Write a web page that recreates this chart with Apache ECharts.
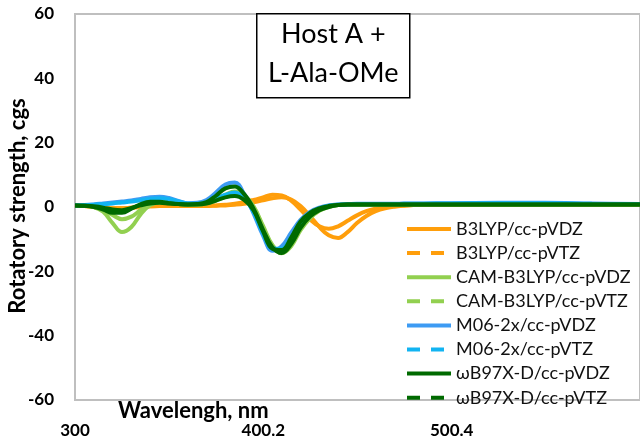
<!DOCTYPE html>
<html>
<head>
<meta charset="utf-8">
<script src="https://cdn.jsdelivr.net/npm/echarts@6/dist/echarts.min.js"></script>
<style>
  html, body { margin: 0; padding: 0; background: #fff; }
  #chart { width: 640px; height: 441px; }
</style>
</head>
<body>
<div id="chart"></div>
<script>
// Wavelength grid (nm) shared by all computed spectra
const wavelength = [300, 305, 310, 315, 320, 325, 330, 335, 340, 345, 350, 355, 360, 365, 370, 375, 380, 385, 390, 395,
  400, 405, 410, 415, 420, 425, 430, 435, 440, 445, 450, 455, 460, 465, 470, 475, 480, 500, 525, 550, 575, 605];

// Rotatory strength (cgs) for each functional / basis set
const b3lypVDZ = [0.5, 0.3, 0, -0.3, -0.4, -0.4, -0.2, 0, 0.2, 0.3, 0.3, 0.3, 0.3, 0.3, 0.4, 0.5, 0.7, 1.0, 1.5, 2.2,
  3.0, 3.8, 3.6, 2.0, -0.8, -3.8, -6.0, -6.8, -6.0, -4.3, -2.6, -1.3, -0.5, 0, 0.3, 0.5, 0.6, 0.7, 0.8, 0.8, 0.8, 0.8];
const b3lypVTZ = [0.5, 0.3, 0, -0.3, -0.4, -0.4, -0.2, 0, 0.2, 0.3, 0.3, 0.3, 0.3, 0.3, 0.3, 0.4, 0.5, 0.7, 1.0, 1.5,
  2.1, 2.7, 3.0, 2.3, 0.3, -2.8, -6.2, -8.8, -9.6, -7.8, -5.0, -2.8, -1.3, -0.4, 0.1, 0.4, 0.6, 0.7, 0.8, 0.8, 0.8, 0.8];
const camVDZ = [0.5, 0.4, 0, -1.5, -5.0, -7.8, -6.2, -2.2, 0.6, 1.5, 1.4, 1.0, 0.8, 0.8, 1.2, 2.3, 3.8, 4.8, 3.6, 0.2,
  -5.8, -11.8, -14.4, -12.2, -7.2, -3.5, -1.2, 0, 0.6, 0.8, 0.8, 0.8, 0.8, 0.8, 0.8, 0.8, 0.8, 0.8, 0.8, 0.8, 0.8, 0.8];
const camVTZ = [0.5, 0.4, 0.1, -0.8, -2.5, -3.8, -3.0, -0.9, 0.8, 1.4, 1.3, 1.0, 0.8, 0.8, 1.1, 2.0, 3.2, 3.8, 3.0, 0,
  -6.2, -12.0, -13.8, -11.0, -6.0, -2.8, -0.9, 0.2, 0.7, 0.8, 0.8, 0.8, 0.8, 0.8, 0.8, 0.8, 0.8, 0.8, 0.8, 0.8, 0.8, 0.8];
const m062xVDZ = [0.5, 0.6, 0.8, 1.1, 1.4, 1.7, 2.0, 2.5, 3.0, 3.2, 2.8, 1.9, 1.2, 1.3, 2.2, 4.5, 7.0, 7.6, 4.0, -2.0,
  -8.8, -13.6, -12.2, -8.0, -4.0, -1.5, -0.2, 0.5, 0.8, 0.9, 1.0, 1.0, 1.0, 1.0, 1.0, 1.1, 1.1, 1.2, 1.3, 1.3, 1.1, 0.9];
const m062xVTZ = [0.5, 0.6, 0.7, 0.9, 1.1, 1.4, 1.7, 2.1, 2.5, 2.7, 2.4, 1.7, 1.1, 1.0, 1.5, 2.6, 3.8, 4.5, 2.8, -1.5,
  -8.0, -12.8, -13.0, -9.5, -5.0, -2.0, -0.5, 0.4, 0.7, 0.8, 0.9, 0.9, 0.9, 0.9, 0.9, 1.0, 1.0, 1.1, 1.2, 1.2, 1.0, 0.9];
const wb97xdVDZ = [0.5, 0.4, 0, -0.8, -1.8, -1.8, -0.5, 0.9, 1.6, 1.6, 1.2, 0.9, 0.8, 0.9, 1.5, 3.5, 5.8, 6.4, 4.0, -0.5,
  -7.0, -12.5, -14.3, -11.5, -6.5, -3.0, -1.0, 0, 0.6, 0.8, 0.8, 0.8, 0.8, 0.8, 0.8, 0.8, 0.8, 0.8, 0.8, 0.8, 0.8, 0.8];
const wb97xdVTZ = [0.5, 0.4, 0.2, -0.2, -0.8, -1.0, -0.3, 0.5, 1.1, 1.3, 1.1, 0.9, 0.8, 0.8, 1.1, 2.0, 3.0, 3.4, 2.2, -1.0,
  -7.5, -13.0, -13.4, -9.5, -4.5, -1.8, -0.4, 0.3, 0.6, 0.8, 0.8, 0.8, 0.8, 0.8, 0.8, 0.8, 0.8, 0.8, 0.8, 0.8, 0.8, 0.8];

const seriesNames = ['B3LYP/cc-pVDZ', 'B3LYP/cc-pVTZ', 'CAM-B3LYP/cc-pVDZ', 'CAM-B3LYP/cc-pVTZ',
  'M06-2x/cc-pVDZ', 'M06-2x/cc-pVTZ', 'ωB97X-D/cc-pVDZ', 'ωB97X-D/cc-pVTZ'];
const seriesValues = [b3lypVDZ, b3lypVTZ, camVDZ, camVTZ, m062xVDZ, m062xVTZ, wb97xdVDZ, wb97xdVTZ];
const seriesColors = ['#FF9E0B', '#FF9E0B', '#92D050', '#92D050', '#3D9BF3', '#12B4F2', '#006A00', '#006A00'];
const dashedTZ = [false, true, false, true, false, true, false, true];

// x-axis ticks: 300, 400.2, 500.4 (step 100.2)
const xMin = 300, xStep = 100.2, xMax = 600.6;
const yMin = -60, yMax = 60, yStep = 20;

const FONT = 'Lato, "Open Sans", sans-serif';

const chart = echarts.init(document.getElementById('chart'), null, { renderer: 'canvas' });

const series = seriesNames.map((name, i) => ({
  name,
  type: 'line',
  smooth: 0.4,
  symbol: 'none',
  clip: true,
  z: 2 + Math.floor(i / 2),
  color: seriesColors[i],
  lineStyle: { width: 4, color: seriesColors[i] },
  data: wavelength.map((w, k) => [w, seriesValues[i][k]])
}));

chart.setOption({
  animation: false,
  backgroundColor: '#fff',
  grid: {
    left: 75, top: 14, right: -3, bottom: 41,
    show: true, borderColor: '#BFBFBF', borderWidth: 2, backgroundColor: 'transparent'
  },
  xAxis: {
    type: 'value', min: xMin, max: xMax, interval: xStep,
    axisLine: { show: false }, axisTick: { show: false }, splitLine: { show: false },
    axisLabel: {
      margin: 22, color: '#000', fontFamily: FONT, fontWeight: 'bold', fontSize: 17,
      showMaxLabel: false,
      formatter: v => String(+v.toFixed(1))
    }
  },
  yAxis: {
    type: 'value', min: yMin, max: yMax, interval: yStep,
    axisLine: { show: false }, axisTick: { show: false }, splitLine: { show: false },
    axisLabel: {
      margin: 21, color: '#000', fontFamily: FONT, fontWeight: 'bold', fontSize: 17,
      padding: [7, 0, 0, 0]
    }
  },
  legend: {
    orient: 'vertical', left: 400, top: 214,
    itemWidth: 44, itemHeight: 12, itemGap: 4.1,
    textStyle: { fontFamily: FONT, fontSize: 18, lineHeight: 20, color: '#111' },
    data: seriesNames.map((name, i) => ({
      name,
      itemStyle: { opacity: 0 },
      lineStyle: { width: 4, type: dashedTZ[i] ? [13, 11] : 'solid' }
    }))
  },
  graphic: [
    {
      type: 'text', left: 118, top: 400,
      style: { text: 'Wavelengh, nm', font: 'bold 22px ' + FONT, fill: '#000' }
    },
    {
      type: 'text', x: 18, y: 206, rotation: Math.PI / 2,
      style: {
        text: 'Rotatory strength, cgs', font: 'bold 22px ' + FONT, fill: '#000',
        align: 'center', verticalAlign: 'middle'
      }
    },
    {
      type: 'group', left: 256, top: 13,
      children: [
        { type: 'rect', shape: { x: 0, y: 0, width: 153, height: 84 },
          style: { fill: '#fff', stroke: '#000', lineWidth: 1.5 } },
        { type: 'text', x: 76.5, y: 21,
          style: { text: 'Host A +', font: '27px ' + FONT, fill: '#000', align: 'center', verticalAlign: 'middle' } },
        { type: 'text', x: 76.5, y: 60,
          style: { text: 'L-Ala-OMe', font: '27px ' + FONT, fill: '#000', align: 'center', verticalAlign: 'middle' } }
      ]
    }
  ],
  series
});
</script>
</body>
</html>
